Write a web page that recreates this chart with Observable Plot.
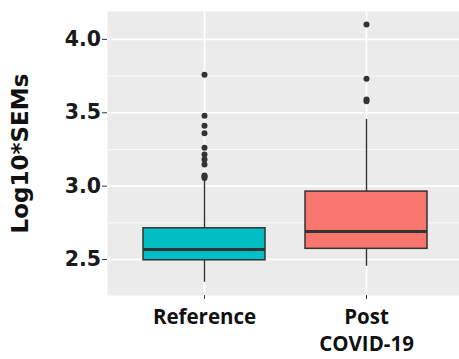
<!DOCTYPE html>
<html>
<head>
<meta charset="utf-8">
<script src="https://cdn.jsdelivr.net/npm/d3@7"></script>
<script src="https://cdn.jsdelivr.net/npm/@observablehq/plot@0.6"></script>
<style>
  html, body { margin: 0; padding: 0; background: #fff; }
  #chart { width: 459px; height: 359px; overflow: hidden; }
</style>
</head>
<body>
<div id="chart"></div>
<script>
// Data
const categories = ["Reference", "Post\nCOVID-19"];
const fills = ["#00BFC4", "#F8766D"];
const whiskerLow = [2.345, 2.454];
const q1 = [2.495, 2.573];
const median = [2.568, 2.691];
const q3 = [2.713, 2.963];
const whiskerHigh = [3.045, 3.455];
const outliersReference = [3.759, 3.480, 3.412, 3.361, 3.262, 3.216, 3.182, 3.148, 3.073, 3.065, 3.056];
const outliersPost = [4.102, 3.732, 3.590, 3.578];
const yTicks = [2.5, 3.0, 3.5, 4.0];
const yMinor = [2.75, 3.25, 3.75];
const yLabel = "Log10*SEMs";

const boxes = categories.map((c, i) => ({
  cat: c, fill: fills[i], lo: whiskerLow[i], q1: q1[i], med: median[i], q3: q3[i], hi: whiskerHigh[i]
}));
const outliers = [
  ...outliersReference.map(v => ({cat: categories[0], v})),
  ...outliersPost.map(v => ({cat: categories[1], v}))
];

const ink = "#333333";
const plot = Plot.plot({
  width: 459,
  height: 359,
  marginLeft: 107,
  marginRight: 0,
  marginTop: 11,
  marginBottom: 64,
  x: {domain: categories, range: [107, 463], paddingInner: 0.25, paddingOuter: 0.2237, align: 0.5},
  y: {domain: [2.255, 4.19]},
  marks: [
    Plot.frame({fill: "#EBEBEB", stroke: null}),
    Plot.gridY(yMinor, {stroke: "white", strokeOpacity: 1, strokeWidth: 0.8}),
    Plot.gridY(yTicks, {stroke: "white", strokeOpacity: 1, strokeWidth: 1.6}),
    Plot.gridX(categories, {stroke: "white", strokeOpacity: 1, strokeWidth: 1.6}),
    Plot.ruleX(boxes, {x: "cat", y1: "lo", y2: "q1", stroke: ink, strokeWidth: 1.4}),
    Plot.ruleX(boxes, {x: "cat", y1: "q3", y2: "hi", stroke: ink, strokeWidth: 1.4}),
    Plot.barY(boxes, {x: "cat", y1: "q1", y2: "q3", fill: "fill", stroke: ink, strokeWidth: 1.5}),
    Plot.tickY(boxes, {x: "cat", y: "med", stroke: ink, strokeWidth: 3}),
    Plot.dot(outliers, {x: "cat", y: "v", r: 3, fill: ink, stroke: null}),
    Plot.axisY(yTicks, {
      tickFormat: d => d.toFixed(1), tickSize: 5, tickPadding: 1.5, stroke: ink,
      fontSize: 20.5, fontWeight: "bold", fontFamily: "DejaVu Sans", fill: "#1a1a1a", label: null
    }),
    Plot.axisX({
      tickSize: 4, tickPadding: 6, stroke: ink, lineHeight: 1.3,
      fontSize: 20.5, fontWeight: "bold", fontFamily: "Open Sans", fill: "#111", label: null
    }),
    Plot.text([yLabel], {
      frameAnchor: "left", dx: -87, rotate: -90, text: d => d, textAnchor: "middle",
      fontSize: 23, fontWeight: "bold", fontFamily: "DejaVu Sans", fill: "#111", lineAnchor: "middle"
    })
  ]
});
plot.style.overflow = "visible";
document.getElementById("chart").append(plot);
</script>
</body>
</html>
